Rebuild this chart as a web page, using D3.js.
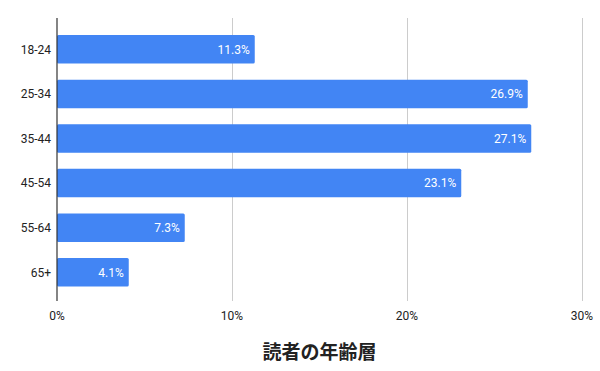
<!DOCTYPE html>
<html><head><meta charset="utf-8">
<script src="https://cdn.jsdelivr.net/npm/d3@7"></script>
<style>
  body { margin: 0; background: #fff; }
  text { font-family: Roboto, "Noto Sans CJK JP", sans-serif; }
</style>
</head><body>
<svg id="chart" width="600" height="371"></svg>
<script>
  // data
  var groups = ["18-24", "25-34", "35-44", "45-54", "55-64", "65+"];
  var shares = [11.3, 26.9, 27.1, 23.1, 7.3, 4.1];
  var xTicks = [0, 10, 20, 30];
  var title = "読者の年齢層";

  var svg = d3.select("#chart");
  var plotLeft = 57, plotRight = 582, plotTop = 18, plotBottom = 301;

  var x = d3.scaleLinear().domain([0, 30]).range([plotLeft, plotRight]);
  var y = d3.scaleBand().domain(groups).range([27, 294.6]).paddingInner(0.36).paddingOuter(0.18);

  // gridlines
  svg.selectAll("line.grid")
    .data(xTicks.filter(function(d){ return d > 0; }))
    .enter().append("line")
    .attr("class", "grid")
    .attr("x1", function(d){ return Math.round(x(d)) + 0.5; })
    .attr("x2", function(d){ return Math.round(x(d)) + 0.5; })
    .attr("y1", plotTop).attr("y2", plotBottom)
    .attr("stroke", "#cccccc").attr("stroke-width", 1);

  // bars
  svg.selectAll("rect.bar")
    .data(groups)
    .enter().append("rect")
    .attr("class", "bar")
    .attr("x", x(0))
    .attr("y", function(d){ return y(d); })
    .attr("width", function(d, i){ return x(shares[i]) - x(0); })
    .attr("height", y.bandwidth())
    .attr("rx", 1.5)
    .attr("fill", "#4285f4");

  // value labels
  svg.selectAll("text.val")
    .data(groups)
    .enter().append("text")
    .attr("class", "val")
    .attr("x", function(d, i){ return x(shares[i]) - 5; })
    .attr("y", function(d){ return y(d) + y.bandwidth() / 2; })
    .attr("dy", "0.35em")
    .attr("text-anchor", "end")
    .attr("fill", "#ffffff")
    .style("font-size", "12px")
    .text(function(d, i){ return shares[i].toFixed(1) + "%"; });

  // zero axis line
  svg.append("line")
    .attr("x1", x(0)).attr("x2", x(0))
    .attr("y1", plotTop).attr("y2", plotBottom)
    .attr("stroke", "#333333").attr("stroke-width", 1.2);

  // category labels
  svg.selectAll("text.cat")
    .data(groups)
    .enter().append("text")
    .attr("class", "cat")
    .attr("x", plotLeft - 6)
    .attr("y", function(d){ return y(d) + y.bandwidth() / 2; })
    .attr("dy", "0.35em")
    .attr("text-anchor", "end")
    .attr("fill", "#222222")
    .style("font-size", "12px")
    .text(function(d){ return d; });

  // x tick labels
  svg.selectAll("text.tick")
    .data(xTicks)
    .enter().append("text")
    .attr("class", "tick")
    .attr("x", function(d){ return x(d); })
    .attr("y", 320)
    .attr("text-anchor", "middle")
    .attr("fill", "#222222")
    .style("font-size", "12px")
    .text(function(d){ return d + "%"; });

  // axis title
  svg.append("text")
    .attr("x", (plotLeft + plotRight) / 2)
    .attr("y", 359)
    .attr("text-anchor", "middle")
    .attr("fill", "#222222")
    .style("font-size", "19px")
    .style("font-weight", "bold")
    .style("font-family", "'Noto Sans CJK JP', sans-serif")
    .text(title);
</script>
</body></html>
